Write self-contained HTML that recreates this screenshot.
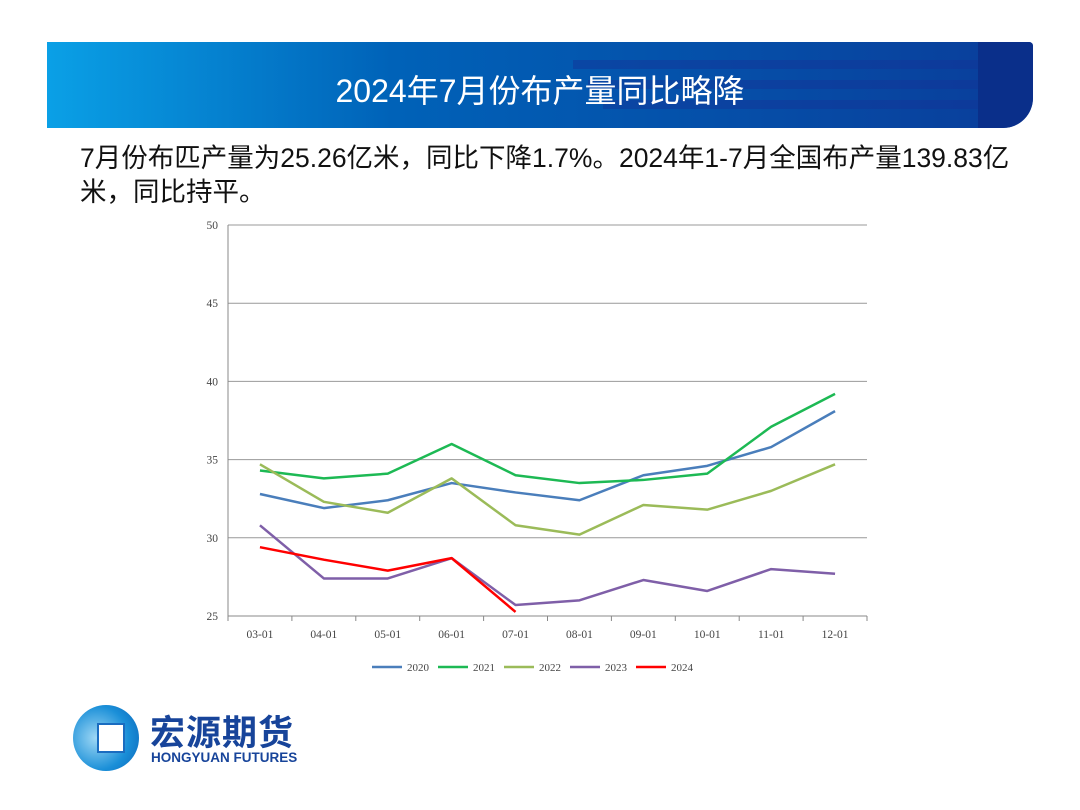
<!DOCTYPE html>
<html><head><meta charset="utf-8"><style>
body{margin:0;width:1080px;height:810px;background:#fff;position:relative;overflow:hidden;font-family:"Liberation Sans","Noto Sans CJK SC",sans-serif}
#banner{position:absolute;left:47px;top:42px;width:986px;height:86px;background:linear-gradient(90deg,#0aa0e6 0%,#0062b8 35%,#0a3d9a 100%);border-top-right-radius:4px;border-bottom-right-radius:30px;overflow:hidden}
.stripe{position:absolute;right:50px;height:9px;background:rgba(20,50,150,.45)}
#title{position:absolute;left:0;right:0;top:24px;text-align:center;color:#fff;font-size:32px;font-family:"Liberation Sans","Noto Sans CJK SC",sans-serif}
#text{position:absolute;left:80px;top:141px;width:1000px;font-size:26.5px;line-height:34px;color:#111;white-space:nowrap}
</style></head><body>
<div id="banner">
<div class="stripe" style="top:18px;width:410px"></div>
<div class="stripe" style="top:38px;width:395px"></div>
<div class="stripe" style="top:58px;width:380px"></div>
<div style="position:absolute;right:0;top:0;width:55px;height:86px;background:#0a2f8a;border-bottom-right-radius:30px"></div>
<div id="title">2024年7月份布产量同比略降</div>
</div>
<div id="text">7月份布匹产量为25.26亿米，同比下降1.7%。2024年1-7月全国布产量139.83亿<br>米，同比持平。</div>
<svg id="chart" width="1080" height="810" style="position:absolute;left:0;top:0"></svg>
<div style="position:absolute;left:73px;top:703px;width:260px;height:70px">
<div style="position:absolute;left:0;top:2px;width:66px;height:66px;border-radius:50%;background:radial-gradient(circle at 35% 50%,#9fd8f5,#1a8fd8 60%,#0b64b8)"></div>
<div style="position:absolute;left:24px;top:20px;width:24px;height:26px;background:#fff;border:2px solid #1a6cc0"></div>
<div style="position:absolute;left:77px;top:2px;font-size:35px;font-weight:bold;color:#17449a;letter-spacing:1px">宏源期货</div>
<div style="position:absolute;left:78px;top:47px;font-size:13.5px;font-weight:bold;color:#17449a">HONGYUAN FUTURES</div>
</div>
<script>
const categories=["03-01","04-01","05-01","06-01","07-01","08-01","09-01","10-01","11-01","12-01"];
const yTicks=[25,30,35,40,45,50];
const s2020=[32.8,31.9,32.4,33.5,32.9,32.4,34.0,34.6,35.8,38.1];
const s2021=[34.3,33.8,34.1,36.0,34.0,33.5,33.7,34.1,37.1,39.2];
const s2022=[34.7,32.3,31.6,33.8,30.8,30.2,32.1,31.8,33.0,34.7];
const s2023=[30.8,27.4,27.4,28.7,25.7,26.0,27.3,26.6,28.0,27.7];
const s2024=[29.4,28.6,27.9,28.7,25.26];
const seriesNames=["2020","2021","2022","2023","2024"];
const colors=["#4a7ebb","#1db954","#9bbb59","#7f5fa8","#ff0000"];
const allSeries=[s2020,s2021,s2022,s2023,s2024];
const svg=document.getElementById('chart');const NS="http://www.w3.org/2000/svg";
const L=228,R=867,T=225,B=616,ymin=25,ymax=50;
const xs=i=>L+(R-L)/categories.length*(i+0.5);
const ys=v=>B-(v-ymin)/(ymax-ymin)*(B-T);
function mk(t,a){const e=document.createElementNS(NS,t);for(const k in a)e.setAttribute(k,a[k]);svg.appendChild(e);return e;}
yTicks.forEach(v=>{const g=mk('line',{x1:L,x2:R,y1:ys(v),y2:ys(v),stroke:v==ymin?'#888':'#999','stroke-width':1});


const t=mk('text',{x:L-10,y:ys(v)+4,'text-anchor':'end','font-size':11.5,fill:'#444','font-family':'Liberation Serif, serif'});t.textContent=v;

});
const ax=mk('line',{x1:L,x2:L,y1:T,y2:B,stroke:'#888'});


for(let i=0;i<=categories.length;i++){const x=L+(R-L)/categories.length*i;mk('line',{x1:x,x2:x,y1:B,y2:B+5,stroke:'#888'});}
categories.forEach((c,i)=>{const t=mk('text',{x:xs(i),y:B+22,'text-anchor':'middle','font-size':11.5,fill:'#444','font-family':'Liberation Serif, serif'});t.textContent=c;

});
allSeries.forEach((s,k)=>{const p=mk('polyline',{points:s.map((v,i)=>xs(i)+','+ys(v)).join(' '),fill:'none',stroke:colors[k],'stroke-width':2.5,'stroke-linejoin':'round'});

});
const lx0=372;seriesNames.forEach((n,k)=>{const x=lx0+k*66;const l=mk('line',{x1:x,x2:x+30,y1:667,y2:667,stroke:colors[k],'stroke-width':2.5});


const t=mk('text',{x:x+35,y:671,'font-size':11,fill:'#444','font-family':'Liberation Serif, serif'});t.textContent=n;

});
</script>
</body></html>
